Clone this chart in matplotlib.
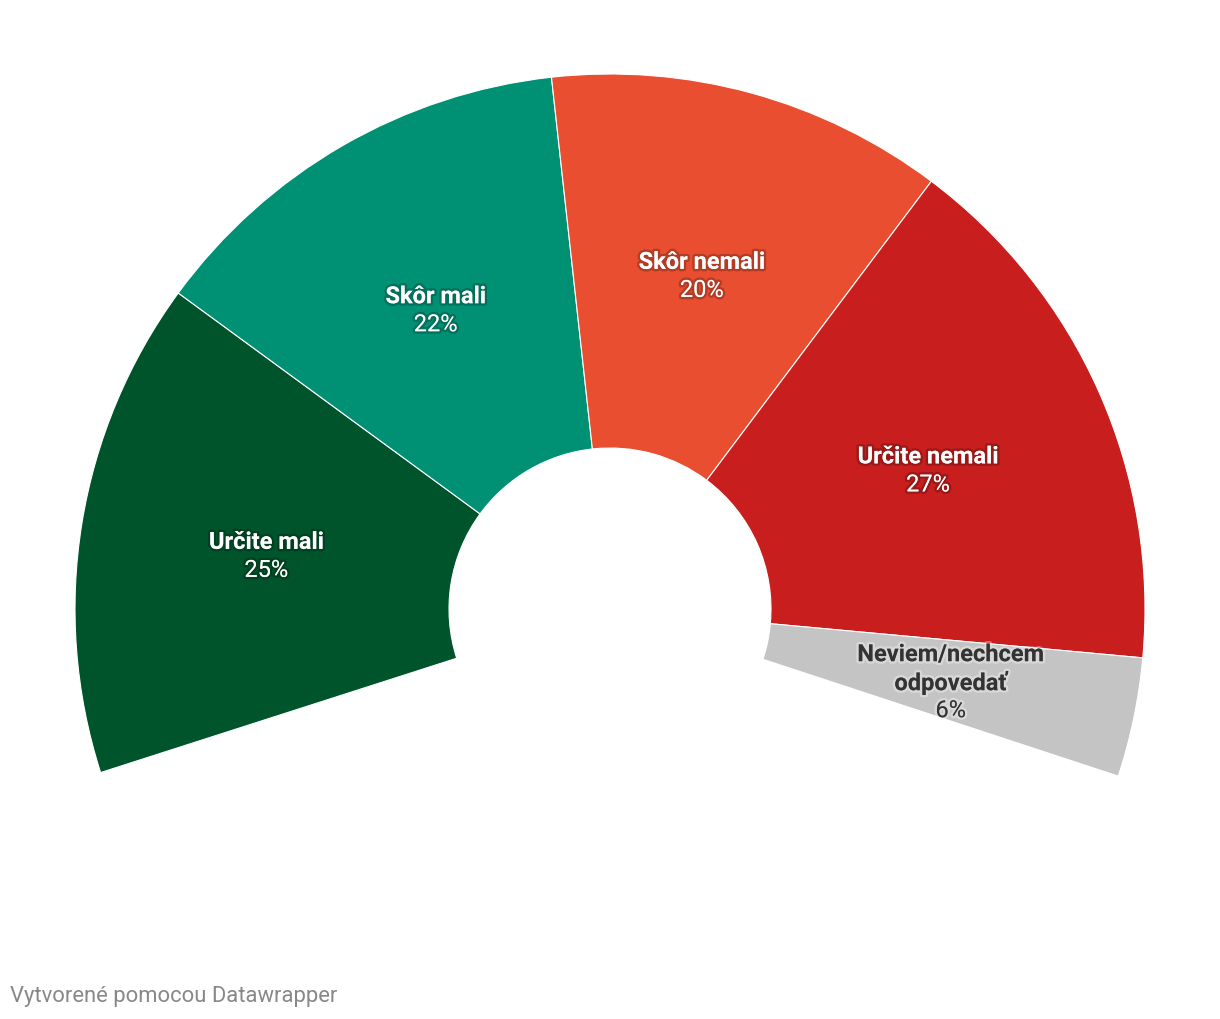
import numpy as np
import matplotlib.pyplot as plt
import matplotlib.patheffects as pe

plt.rcParams['font.family'] = ['Roboto', 'DejaVu Sans']

categories = ['Určite mali', 'Skôr mali', 'Skôr nemali', 'Určite nemali', 'Neviem/nechcem\nodpovedať']
values = [25, 22, 20, 27, 6]
colors = ['#00542b', '#009175', '#e84e2f', '#c81e1e', '#c4c4c4']
text_colors = ['white', 'white', 'white', 'white', '#333333']

span = 216.0      # degrees covered by the arc
start = 197.8     # start angle, going clockwise
cx, cy = 610, 410
r_out, r_in = 535, 161
line_h = 28

fig = plt.figure(figsize=(12.2, 10.2), dpi=100)
ax = fig.add_axes([0, 0, 1, 1])

fracs = np.array(values) / sum(values) * span / 360
ax.pie(fracs, colors=colors, startangle=start, counterclock=False, normalize=False,
       radius=r_out, center=(cx, cy),
       wedgeprops=dict(width=r_out - r_in, edgecolor='white', linewidth=0.8))

ax.set_xlim(0, 1220)
ax.set_ylim(0, 1020)
ax.set_aspect('equal')
ax.axis('off')

r_mid = (r_out + r_in) / 2
cum = 0
for cat, v, tc in zip(categories, values, text_colors):
    mid = np.deg2rad(start - (cum + v / 2) / 100 * span)
    cum += v
    x = cx + r_mid * np.cos(mid)
    y = cy + r_mid * np.sin(mid) - 3
    halo = (0, 0, 0, 0.22) if tc == 'white' else (1, 1, 1, 0.35)
    eff = [pe.withStroke(linewidth=3.5, foreground=halo)]
    lines = cat.split('\n')
    n = len(lines) + 1
    top = y + (n - 1) / 2 * line_h
    for i, ln in enumerate(lines):
        ax.text(x, top - i * line_h, ln, ha='center', va='center', color=tc,
                fontsize=17, fontweight='bold', path_effects=eff)
    ax.text(x, top - (n - 1) * line_h, f'{v}%', ha='center', va='center', color=tc,
            fontsize=17, path_effects=eff)

fig.text(10 / 1220, 1 - 997 / 1020, 'Vytvorené pomocou Datawrapper', ha='left', va='center',
         color='#888888', fontsize=15.8)

fig.savefig('out.png', dpi=100)
